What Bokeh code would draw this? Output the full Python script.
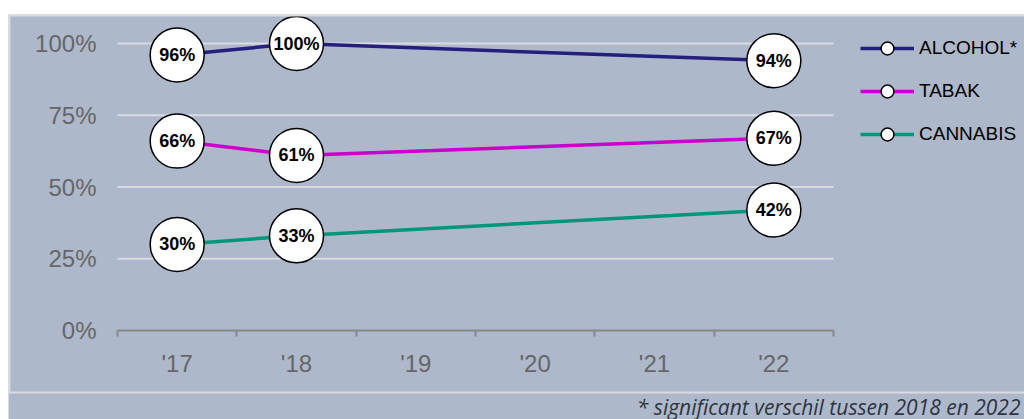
from bokeh.plotting import figure
from bokeh.models import (Range1d, FixedTicker, Legend, LegendItem, BoxAnnotation, Label)
from bokeh.core.properties import value
from bokeh.embed import file_html
from bokeh.resources import INLINE

# ---- data ----
years = [2017, 2018, 2022]
alcohol = [96, 100, 94]
tabak = [66, 61, 67]
cannabis = [30, 33, 42]
series_names = ["ALCOHOL*", "TABAK", "CANNABIS"]
series_colors = ["#241e7c", "#cc00cc", "#00977a"]
x_ticks = [2017, 2018, 2019, 2020, 2021, 2022]
x_tick_labels = ["'17", "'18", "'19", "'20", "'21", "'22"]
y_ticks = [0, 25, 50, 75, 100]
y_tick_labels = ["0%", "25%", "50%", "75%", "100%"]
footnote = "* significant verschil tussen 2018 en 2022"

BG = "#adb8cb"
GRID = "#d9dbe0"
AXIS = "#888888"
FONT = "Liberation Sans"
NAN = float("nan")

# ---- layout (pixels on the page) ----
W, H = 1024, 419
FL, FT = 8, 14            # frame left / top (chart panel)
AX_L, AX_R = 117, 833     # plotting area horizontally
AX_T, AX_B = 43, 330      # y=100 and y=0

x0, x1 = x_ticks[0] - 0.5, x_ticks[-1] + 0.5
ppx = (AX_R - AX_L) / (x1 - x0)
ppy = (AX_B - AX_T) / (y_ticks[-1] - y_ticks[0])
xr = Range1d(x0 - (AX_L - FL) / ppx, x1 + (W - AX_R) / ppx)
yr = Range1d(y_ticks[0] - (H - AX_B) / ppy, y_ticks[-1] + (AX_T - FT) / ppy)

p = figure(width=W, height=H, x_range=xr, y_range=yr,
           output_backend="svg", toolbar_location=None,
           min_border_left=FL, min_border_right=0, min_border_top=FT, min_border_bottom=0,
           background_fill_color=BG, border_fill_color="white", outline_line_color=None)

# axes
xa = p.xaxis[0]
xa.fixed_location = y_ticks[0]
xa.bounds = (x0, x1)
xa.ticker = FixedTicker(ticks=x_ticks, minor_ticks=[t - 0.5 for t in x_ticks] + [x_ticks[-1] + 0.5])
xa.major_label_overrides = {t: l for t, l in zip(x_ticks, x_tick_labels)}
xa.major_tick_line_color = None
xa.major_tick_out = 0
xa.major_tick_in = 0
xa.minor_tick_line_color = AXIS
xa.minor_tick_line_width = 2
xa.minor_tick_out = 6
xa.minor_tick_in = 0
xa.axis_line_color = AXIS
xa.axis_line_width = 2
xa.major_label_text_font = FONT
xa.major_label_text_font_size = "24px"
xa.major_label_text_color = "#666666"
xa.major_label_standoff = 13

ya = p.yaxis[0]
ya.fixed_location = x0
ya.bounds = (y_ticks[0], y_ticks[-1])
ya.ticker = FixedTicker(ticks=y_ticks)
ya.major_label_overrides = {t: l for t, l in zip(y_ticks, y_tick_labels)}
ya.axis_line_color = None
ya.major_tick_line_color = None
ya.minor_tick_line_color = None
ya.major_tick_out = 0
ya.major_tick_in = 0
ya.major_label_text_font = FONT
ya.major_label_text_font_size = "24px"
ya.major_label_text_color = "#666666"
ya.major_label_standoff = 21

p.xgrid.grid_line_color = None
p.ygrid.grid_line_color = None

# horizontal gridlines limited to the plotting area
gy = y_ticks[1:]
p.segment(x0=[x0] * len(gy), x1=[x1] * len(gy), y0=gy, y1=gy, line_color=GRID, line_width=2)

items = []
for name, vals, col in zip(series_names, [alcohol, tabak, cannabis], series_colors):
    lr = p.line(years, vals, line_color=col, line_width=3.5)
    p.scatter(years, vals, size=54, fill_color="white", line_color="black", line_width=1.5)
    p.text(years, vals, text=[f"{v}%" for v in vals], text_align="center", text_baseline="middle",
           text_font=value(FONT), text_font_style="bold", text_font_size="18px", text_color="black")
    mr = p.scatter(x=[NAN], y=[NAN], size=13, fill_color="white", line_color="black", line_width=1.5)
    items.append(LegendItem(label=name, renderers=[lr, mr]))

GH = 32          # legend row height (marker size = 0.4 * row height)
SP = 43 - GH     # row pitch 43 px
LEG_TOP = 48 - GH // 2
LEG_H = 3 * GH + 2 * SP
legend = Legend(items=items, location=(860 - FL, H - (LEG_TOP + LEG_H)),
                orientation="vertical",
                background_fill_alpha=0, border_line_color=None,
                padding=0, margin=0, spacing=SP, glyph_width=54, glyph_height=GH,
                label_height=GH, label_standoff=5,
                label_text_font=FONT, label_text_font_size="19px", label_text_color="black")
p.add_layout(legend, "center")

def cbox(l, r, t, b, color):
    return BoxAnnotation(left=l, right=r, top=t, bottom=b, left_units="canvas", right_units="canvas",
                         top_units="canvas", bottom_units="canvas", fill_color=color, fill_alpha=1,
                         line_color=None)

p.add_layout(cbox(FL, W, FT, FT + 2, GRID))       # top border
p.add_layout(cbox(FL, FL + 2, FT, 392, GRID))     # left border
p.add_layout(cbox(FL, W, 391, 393, GRID))         # footer separator
p.add_layout(Label(x=1020, y=406, x_units="canvas", y_units="canvas", text=footnote,
                   text_align="right", text_baseline="middle", text_font="Open Sans",
                   text_font_style="italic", text_font_size="21px", text_color="#2e3440"))

open("out.html", "w").write(file_html(p, INLINE))
